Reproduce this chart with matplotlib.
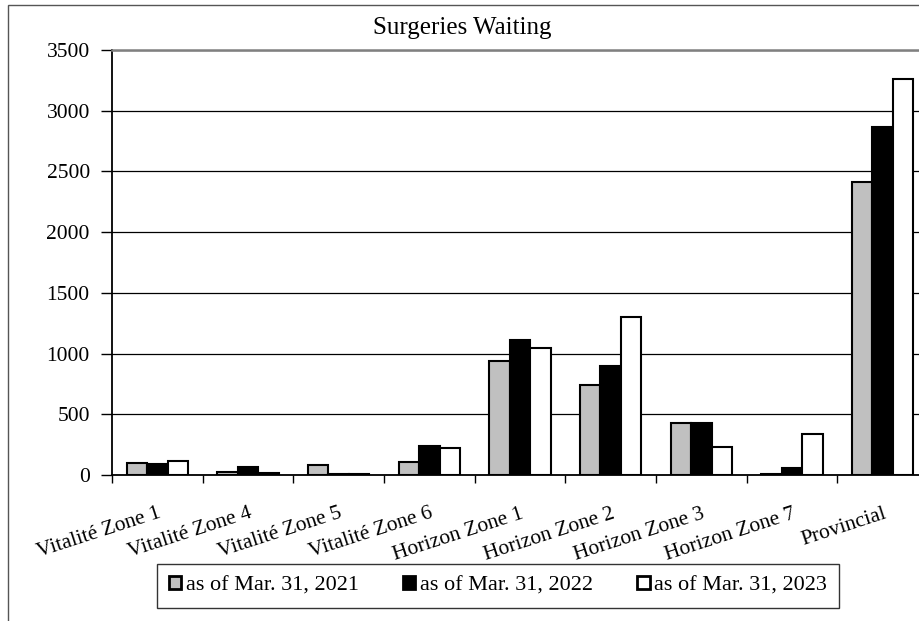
import numpy as np
import matplotlib
matplotlib.use('Agg')
import matplotlib.pyplot as plt
from matplotlib.patches import Rectangle

plt.rcParams['font.family'] = ['Liberation Serif', 'DejaVu Serif']

# data
zones = ['Vitalité Zone 1', 'Vitalité Zone 4', 'Vitalité Zone 5', 'Vitalité Zone 6',
         'Horizon Zone 1', 'Horizon Zone 2', 'Horizon Zone 3', 'Horizon Zone 7', 'Provincial']
waiting_2021 = [98, 28, 82, 110, 939, 741, 426, 5, 2414]
waiting_2022 = [90, 62, 10, 239, 1112, 898, 428, 55, 2865]
waiting_2023 = [112, 17, 5, 225, 1049, 1304, 233, 338, 3265]
series_names = ['as of Mar. 31, 2021', 'as of Mar. 31, 2022', 'as of Mar. 31, 2023']
series_colors = ['#c0c0c0', '#000000', '#ffffff']

fig = plt.figure(figsize=(9.2, 6.21), dpi=100)
ax = fig.add_axes([112 / 920, 1 - 475 / 621, 816 / 920, 425 / 621])

x = np.arange(len(zones))
w = 0.225
for i, (vals, name, col) in enumerate(zip([waiting_2021, waiting_2022, waiting_2023],
                                           series_names, series_colors)):
    ax.bar(x + (i - 1) * w, vals, w, color=col, edgecolor='black', linewidth=1.5,
           label=name, zorder=3)

ax.set_xlim(-0.5, len(zones) - 0.5)
ax.set_ylim(0, 3500)
ax.set_yticks(range(0, 3501, 500))
ax.yaxis.grid(True, color='black', linewidth=0.9, zorder=0)
ax.set_axisbelow(True)

# category labels in the middle, ticks on the boundaries
ax.set_xticks(np.arange(-0.5, len(zones), 1.0))
ax.set_xticklabels([])
ax.set_xticks(x, minor=True)
ax.set_xticklabels(zones, minor=True, rotation=18, ha='right', rotation_mode='anchor',
                   fontsize=15.5)
ax.tick_params(axis='x', which='minor', length=0, pad=21)
ax.tick_params(axis='x', which='major', length=6, width=1, direction='out')
ax.tick_params(axis='y', length=8, width=1, labelsize=15.5, pad=8)

for s in ['left', 'bottom']:
    ax.spines[s].set_color('black')
    ax.spines[s].set_linewidth(1.3)
ax.spines['top'].set_color('#808080')
ax.spines['top'].set_linewidth(1.8)
ax.spines['right'].set_visible(False)

fig.text(462 / 920, 1 - 28 / 621, 'Surgeries Waiting', ha='center', va='center', fontsize=18)

leg = fig.legend(loc='center', bbox_to_anchor=(498 / 920, 1 - 585.5 / 621), ncol=3,
                 fontsize=16, frameon=True, fancybox=False, edgecolor='black',
                 handlelength=0.55, handleheight=0.55, handletextpad=0.2,
                 columnspacing=2.0, borderpad=0.55, borderaxespad=0)
leg.get_frame().set_linewidth(1.0)
for h in leg.legend_handles:
    h.set_linewidth(2.0)

# outer chart-area border
fig.patches.append(Rectangle((8 / 920, -0.05), 1.0, 0.992 + 0.05, transform=fig.transFigure,
                             fill=False, edgecolor='#555555', linewidth=1.0))

fig.savefig('out.png', dpi=100)
